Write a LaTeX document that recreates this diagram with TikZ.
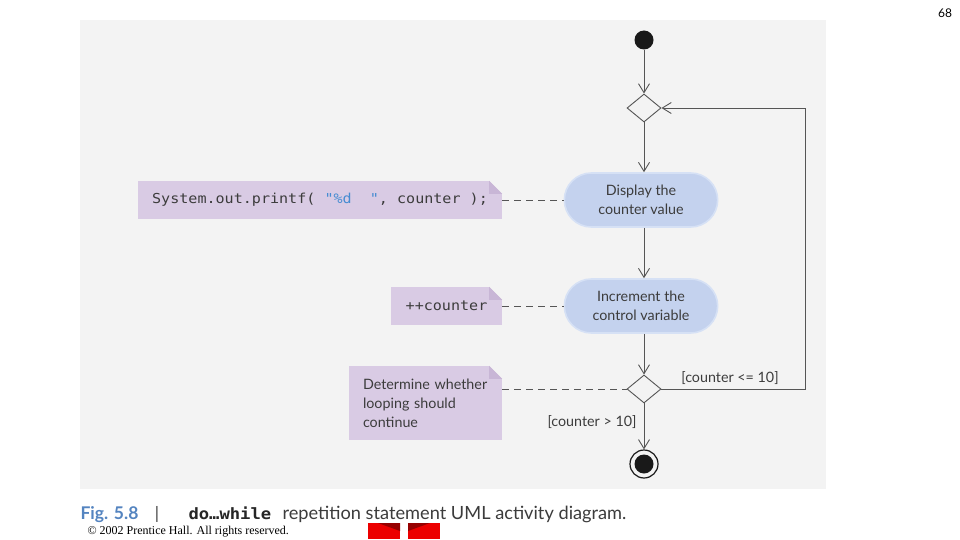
\documentclass[tikz,border=0pt]{standalone}
\usepackage{fontspec}
\setmainfont{Lato}
\newfontfamily\codefont{DejaVu Sans Mono}[FakeStretch=1.1]
\newfontfamily\copyfont{Liberation Serif}
\usepackage{tikz}
\usetikzlibrary{shapes, positioning, arrows.meta}
\usepackage{xcolor}
\definecolor{panelgray}{RGB}{243,243,243}
\definecolor{linegray}{RGB}{85,85,85}
\definecolor{textgray}{RGB}{60,60,60}
\definecolor{actblue}{RGB}{196,210,238}
\definecolor{actedge}{RGB}{214,225,245}
\definecolor{notepurple}{RGB}{217,203,228}
\definecolor{notefold}{RGB}{200,182,214}
\definecolor{codeblue}{RGB}{70,140,210}
\definecolor{figblue}{RGB}{84,132,192}
\definecolor{navred}{RGB}{236,0,0}
\definecolor{navdark}{RGB}{150,0,0}
\newcommand{\foldcorner}[1]{%
  \fill[panelgray] ([xshift=-13pt]#1.north east) -- (#1.north east) -- ([yshift=-13pt]#1.north east) -- cycle;
  \fill[notefold] ([xshift=-13pt]#1.north east) -- ([yshift=-13pt]#1.north east) -- ([xshift=-13pt,yshift=-13pt]#1.north east) -- cycle;}

\begin{document}
\begin{tikzpicture}[x=1pt, y=-1pt,
    activity/.style={rounded rectangle, fill=actblue, draw=actedge, line width=1.6pt,
      minimum width=160pt, minimum height=54pt, align=center, text=textgray,
      font=\fontsize{14.3}{19}\selectfont},
    note/.style={rectangle, fill=notepurple, inner sep=0pt, text=textgray},
    decision/.style={diamond, draw=linegray, fill=panelgray, line width=0.9pt,
      inner sep=0pt, minimum width=34pt, minimum height=28pt},
    flow/.style={draw=linegray, line width=0.9pt, -{Straight Barb[length=9pt,width=11pt]}},
    link/.style={draw=linegray, line width=0.9pt, dash pattern=on 7pt off 5pt},
    guard/.style={text=textgray, font=\fontsize{14.3}{16}\selectfont}]
    \useasboundingbox (0,0) rectangle (960,540);
    \fill[white] (0,0) rectangle (960,540);
    \fill[panelgray] (80,20) rectangle (826,489);

    % Activity nodes
    \node[circle, fill=black!90, inner sep=0pt, minimum size=19pt] (start) at (644,40) {};
    \node[decision] (merge) at (644,108) {};
    \node[activity] (display) at (641,200) {Display the\\counter value};
    \node[activity] (increment) at (641,306) {Increment the\\control variable};
    \node[decision] (check) at (644,389) {};
    \node[circle, draw=black!90, line width=1.2pt, inner sep=0pt, minimum size=28pt,
      path picture={\fill[black!90] (path picture bounding box.center) circle (9.5pt);}]
      (stop) at (644,464) {};
    \coordinate (loopcorner) at (805,389);

    % Notes
    \node[note, minimum width=364pt, minimum height=38pt, font=\codefont\fontsize{13.7}{16}\selectfont]
      (printnote) at (320,200) {System.out.printf(\ \textcolor{codeblue}{"\%d\ \ "}, counter\ );};
    \node[note, minimum width=111pt, minimum height=38pt, font=\codefont\fontsize{13.7}{16}\selectfont]
      (incnote) at (446.5,306) {++counter};
    \node[note, minimum width=153pt, minimum height=74pt, text width=125pt, align=left,
      font=\fontsize{14.3}{19}\selectfont]
      (checknote) at (425.5,403) {Determine whether\\looping should\\continue};
    \foldcorner{printnote}
    \foldcorner{incnote}
    \foldcorner{checknote}

    % Flows
    \draw[flow] (start) -- (merge);
    \draw[flow] (merge) -- (merge |- display.north);
    \draw[flow] (merge |- display.south) -- (merge |- increment.north);
    \draw[flow] (merge |- increment.south) -- (check);
    \draw[flow] (check.east) -- (loopcorner) |- (merge.east);
    \draw[flow] (check) -- (stop);
    \node[guard, anchor=base] (loopguard) at (730,382) {[counter <= 10]};
    \node[guard, anchor=base east] (exitguard) at (640,426) {[counter > 10]};

    % Note links
    \draw[link] (printnote.east) -- (display.west);
    \draw[link] (incnote.east) -- (increment.west);
    \draw[link] (checknote.east |- check) -- (check.west);

    % Caption
    \node[anchor=base west, text=figblue, font=\bfseries\fontsize{17.5}{20}\selectfont]
      (figlabel) at (77,519) {Fig. 5.8};
    \node[anchor=base, text=textgray, font=\fontsize{17}{20}\selectfont]
      (figbar) at (157,519) {|};
    \node[anchor=base west, text=black!85, font=\codefont\bfseries\fontsize{15.6}{20}\selectfont]
      (figkw) at (185,519) {do…while};
    \node[anchor=base west, text=textgray, font=\fontsize{18.2}{20}\selectfont]
      (figtext) at (279,519) {repetition statement UML activity diagram.};
    \node[anchor=base west, font=\copyfont\fontsize{12}{12}\selectfont]
      (copyright) at (84,534) {© 2002 Prentice Hall. All rights reserved.};

    % Navigation buttons
    \fill[navred] (368,523) rectangle (400,539);
    \fill[navdark] (378,523) -- (400,523) -- (400,531) -- cycle;
    \fill[navred] (408,523) rectangle (440,539);
    \fill[navdark] (408,523) -- (430,523) -- (408,531) -- cycle;

    \node[font=\fontsize{12}{12}\selectfont] (pagenum) at (945,13) {68};
\end{tikzpicture}
\end{document}
